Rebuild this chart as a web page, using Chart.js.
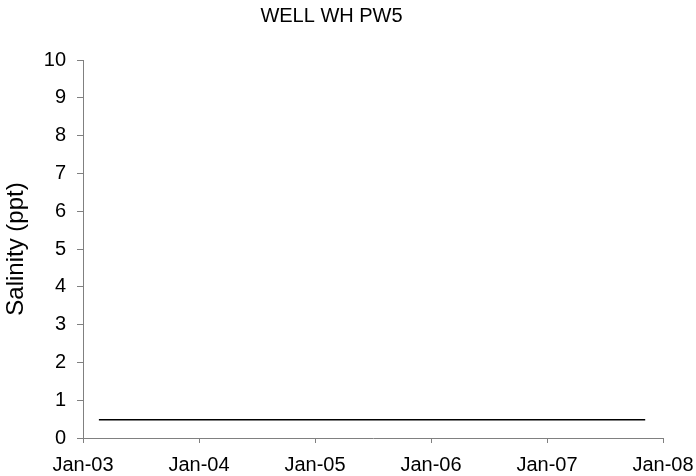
<!DOCTYPE html>
<html>
<head>
<meta charset="utf-8">
<script src="https://cdn.jsdelivr.net/npm/chart.js@4"></script>
<style>
  html, body { margin: 0; padding: 0; background: #fff; }
  #wrap { width: 696px; height: 476px; }
</style>
</head>
<body>
<div id="wrap"><canvas id="grafico"></canvas></div>
<script>
// sample dates and salinity readings for the well
const fechas = ['2003-02-20', '2004-05-11', '2005-08-16', '2006-11-07', '2007-11-06'];
const salinidad = [0.48, 0.48, 0.48, 0.48, 0.48];
const yTicks = [0, 1, 2, 3, 4, 5, 6, 7, 8, 9, 10];
const xTickYears = [2003, 2004, 2005, 2006, 2007, 2008];

// date string -> fractional year so a linear scale can place it
function aAnio(s) {
    const d = new Date(s + 'T00:00:00Z');
    const y = d.getUTCFullYear();
    const ini = Date.UTC(y, 0, 1);
    const fin = Date.UTC(y + 1, 0, 1);
    return y + (d.getTime() - ini) / (fin - ini);
}

const puntos = fechas.map((f, i) => ({ x: aAnio(f), y: salinidad[i] }));
const gris = '#808080';
const fuente = 'Liberation Sans, Arial, sans-serif';

const ctx = document.getElementById('grafico').getContext('2d');
new Chart(ctx, {
    type: 'line',
    data: {
        datasets: [{
            label: 'Salinity',
            data: puntos,
            borderColor: '#000',
            borderWidth: 1.5,
            pointRadius: 0,
            fill: false,
            tension: 0
        }]
    },
    options: {
        responsive: true,
        maintainAspectRatio: false,
        animation: false,
        layout: { padding: { left: 0, right: 33, top: 0, bottom: 0 } },
        plugins: {
            legend: { display: false },
            tooltip: { enabled: false },
            title: {
                display: true,
                text: 'WELL WH PW5',
                color: '#000',
                font: { family: fuente, size: 20, weight: 'normal' },
                padding: { top: 4, bottom: 32 }
            }
        },
        scales: {
            x: {
                type: 'linear',
                min: xTickYears[0],
                max: xTickYears[xTickYears.length - 1],
                afterBuildTicks: s => { s.ticks = xTickYears.map(v => ({ value: v })); },
                // fixed height; end labels may hang into the side margins
                afterFit: s => { s.height = 38; s.paddingLeft = 0; s.paddingRight = 0; },
                border: { color: gris, width: 1 },
                grid: { drawOnChartArea: false, drawTicks: true, tickLength: 5, color: gris },
                ticks: {
                    color: '#000',
                    padding: 10,
                    maxRotation: 0,
                    font: { family: fuente, size: 20 },
                    callback: v => 'Jan-' + String(v).slice(2)
                }
            },
            y: {
                min: 0,
                max: 10,
                afterBuildTicks: s => { s.ticks = yTicks.map(v => ({ value: v })); },
                afterFit: s => { s.width = 83; s.paddingTop = 0; s.paddingBottom = 0; },
                border: { color: gris, width: 1 },
                grid: { drawOnChartArea: false, drawTicks: true, tickLength: 6, color: gris },
                title: {
                    display: true,
                    text: 'Salinity (ppt)',
                    color: '#000',
                    font: { family: fuente, size: 24 },
                    padding: { top: 2, bottom: 0 }
                },
                ticks: {
                    color: '#000',
                    padding: 11,
                    font: { family: fuente, size: 20 }
                }
            }
        }
    }
});
</script>
</body>
</html>
